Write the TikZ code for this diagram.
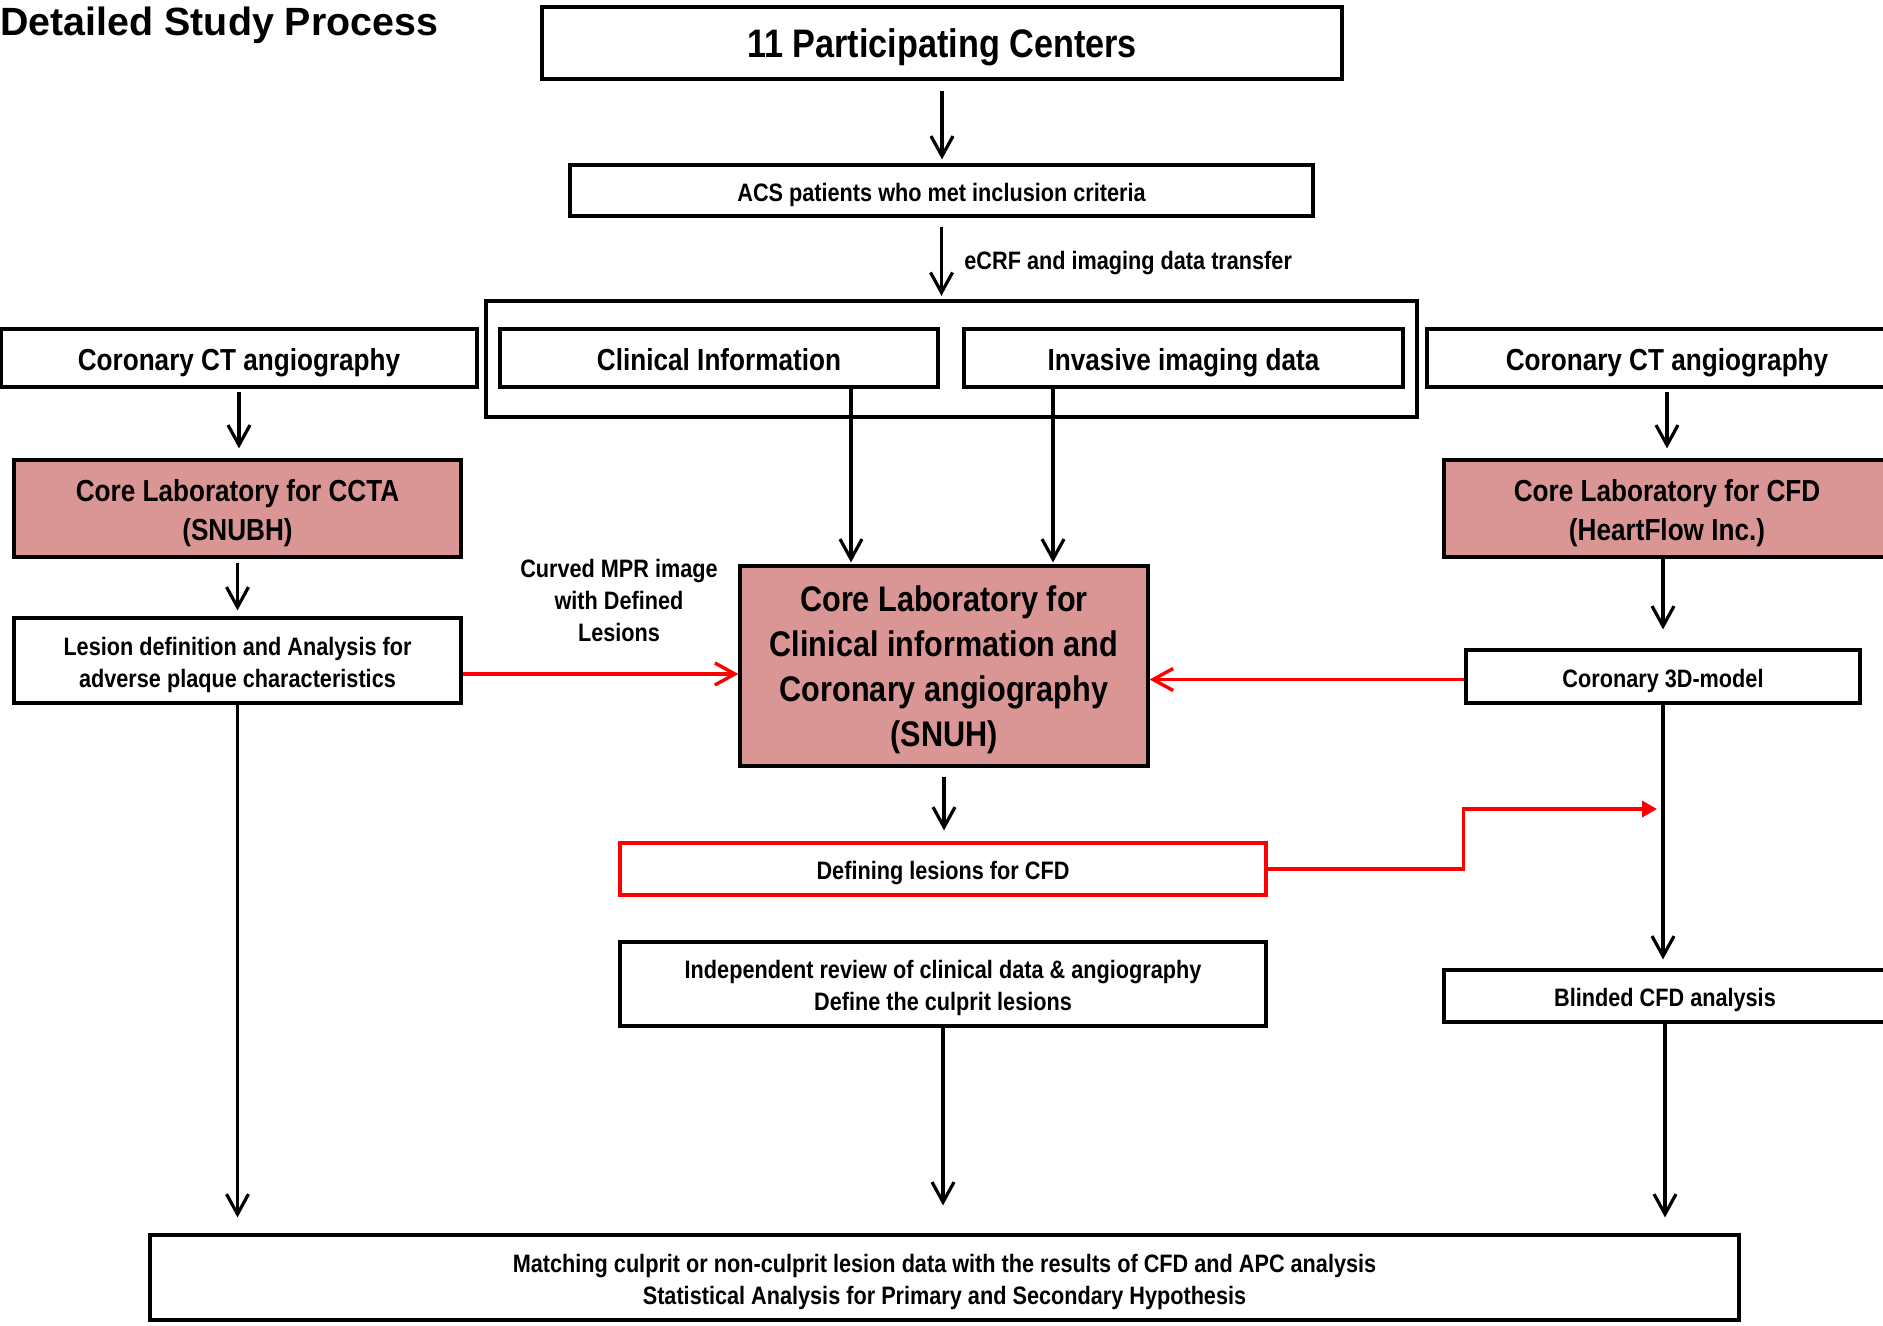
\documentclass[tikz,border=0pt]{standalone}
\usepackage{fontspec}
\setmainfont{Liberation Sans}
\newfontfamily\narrowfont{Liberation Sans}[FakeStretch=0.86]
\usetikzlibrary{arrows.meta}
\definecolor{labpink}{HTML}{D99694}
\definecolor{linkred}{HTML}{FF0000}
\newcommand\capstrut{\rule[-0.21em]{0pt}{\dimexpr0.93em+4.4pt\relax}}

\begin{document}
\begin{tikzpicture}[x=0.5pt, y=-0.5pt,
  box/.style={draw, line width=1.6pt, inner sep=0pt, align=center, font=\narrowfont\bfseries\fontsize{12.6}{16}\selectfont,
    execute at begin node=\capstrut, execute at end node=\capstrut},
  midfont/.style={font=\narrowfont\bfseries\fontsize{15.2}{19.5}\selectfont},
  bigfont/.style={font=\narrowfont\bfseries\fontsize{17.8}{22.5}\selectfont},
  pinkbox/.style={box, fill=labpink},
  arr/.style={line width=1.6pt, -{Straight Barb[length=10pt, width=11pt]}},
  redarr/.style={line width=1.7pt, draw=linkred, -{Straight Barb[length=10pt, width=11pt]}}]
\useasboundingbox (0,0) rectangle (1883,1326);
%Boxes
\node[anchor=base west, inner sep=0pt, font=\bfseries\fontsize{19.7}{24}\selectfont] (title) at (0,36) {Detailed Study Process};
\node[box, minimum width=400pt, minimum height=36pt, font=\narrowfont\bfseries\fontsize{19.9}{24}\selectfont] (centers) at (942,43) {11 Participating Centers};
\node[box, minimum width=371.5pt, minimum height=25.5pt] (acs) at (941.5,190.5) {ACS patients who met inclusion criteria};
\node[box, line width=2.2pt, minimum width=465.5pt, minimum height=58pt] (grp) at (951.5,359) {};
\node[box, midfont, minimum width=219pt, minimum height=29pt] (clin) at (719,358) {Clinical Information};
\node[box, midfont, minimum width=219.5pt, minimum height=29pt] (inv) at (1183.5,358) {Invasive imaging data};
\node[box, midfont, minimum width=238pt, minimum height=29pt] (cctaL) at (239,358) {Coronary CT angiography};
\node[box, midfont, minimum width=240pt, minimum height=29pt] (cctaR) at (1667,358) {Coronary CT angiography};
\node[pinkbox, midfont, minimum width=223.5pt, minimum height=48.5pt] (labL) at (237.5,508.5) {\capstrut Core Laboratory for CCTA\\(SNUBH)};
\node[box, minimum width=223.5pt, minimum height=42.5pt] (lesion) at (237.5,660.5) {\capstrut Lesion definition and Analysis for\\adverse plaque characteristics};
\node[pinkbox, bigfont, minimum width=204pt, minimum height=100pt] (snuh) at (944,666) {\capstrut Core Laboratory for\\Clinical information and\\Coronary angiography\\(SNUH)};
\node[pinkbox, midfont, minimum width=223pt, minimum height=48.5pt] (labR) at (1667,508.5) {\capstrut Core Laboratory for CFD\\(HeartFlow Inc.)};
\node[box, minimum width=197pt, minimum height=26.5pt] (model) at (1663,676.5) {Coronary 3D-model};
\node[box, draw=linkred, minimum width=323pt, minimum height=26pt] (defin) at (943,869) {Defining lesions for CFD};
\node[box, minimum width=323pt, minimum height=42pt] (review) at (943,984) {\capstrut Independent review of clinical data \& angiography\\Define the culprit lesions};
\node[box, minimum width=221pt, minimum height=26pt] (blind) at (1665,996) {Blinded CFD analysis};
\node[box, minimum width=794.5pt, minimum height=42.5pt] (final) at (944.5,1277.5) {\capstrut Matching culprit or non-culprit lesion data with the results of CFD and APC analysis\\Statistical Analysis for Primary and Secondary Hypothesis};
%Text
\node[anchor=west, inner sep=0pt, font=\narrowfont\bfseries\fontsize{12.6}{16}\selectfont] (xfer) at (964,263) {eCRF and imaging data transfer};
\node[align=center, inner sep=0pt, font=\narrowfont\bfseries\fontsize{12.6}{16}\selectfont] (mpr) at (619,600) {Curved MPR image\\with Defined\\Lesions};
%Arrows
\coordinate (clinX) at (851,0);
\coordinate (invX) at (1053,0);
\coordinate (cfdIn) at (1657,809);
\coordinate (mprL) at ([yshift=-6.75pt]lesion.east);
\coordinate (modelL) at ([yshift=-1.5pt]model.west);
\draw[arr, shorten <=5pt, shorten >=2pt] (centers.south) -- (centers.south |- acs.north);
\draw[arr, shorten <=4.5pt, shorten >=1.5pt] (acs.south) -- (acs.south |- grp.north);
\draw[arr, shorten <=1.5pt, shorten >=5pt] (cctaL.south) -- (cctaL.south |- labL.north);
\draw[arr, shorten <=2pt, shorten >=3pt] (labL.south) -- (lesion.north);
\draw[arr, shorten >=8pt] (lesion.south) -- (lesion.south |- final.north);
\draw[arr, shorten >=1pt] (clin.south -| clinX) -- (snuh.north -| clinX);
\draw[arr, shorten >=1pt] (inv.south -| invX) -- (snuh.north -| invX);
\draw[arr, shorten <=1.5pt, shorten >=5pt] (cctaR.south) -- (cctaR.south |- labR.north);
\draw[arr, shorten >=9.5pt] (model.north |- labR.south) -- (model.north);
\draw[arr, shorten >=4.5pt] (model.south) -- (model.south |- blind.north);
\draw[arr, shorten >=8pt] (blind.south) -- (blind.south |- final.north);
\draw[arr, shorten <=4.5pt, shorten >=5.5pt] (snuh.south) -- (snuh.south |- defin.north);
\draw[arr, shorten >=14pt] (review.south) -- (review.south |- final.north);
\draw[redarr] (mprL) -- (mprL -| snuh.west);
\draw[redarr] (modelL) -- (modelL -| snuh.east);
\draw[line width=1.7pt, draw=linkred, -{Triangle[length=7.5pt, width=8pt]}] (defin.east) -- ++(196,0) |- (cfdIn);
\end{tikzpicture}
\end{document}
